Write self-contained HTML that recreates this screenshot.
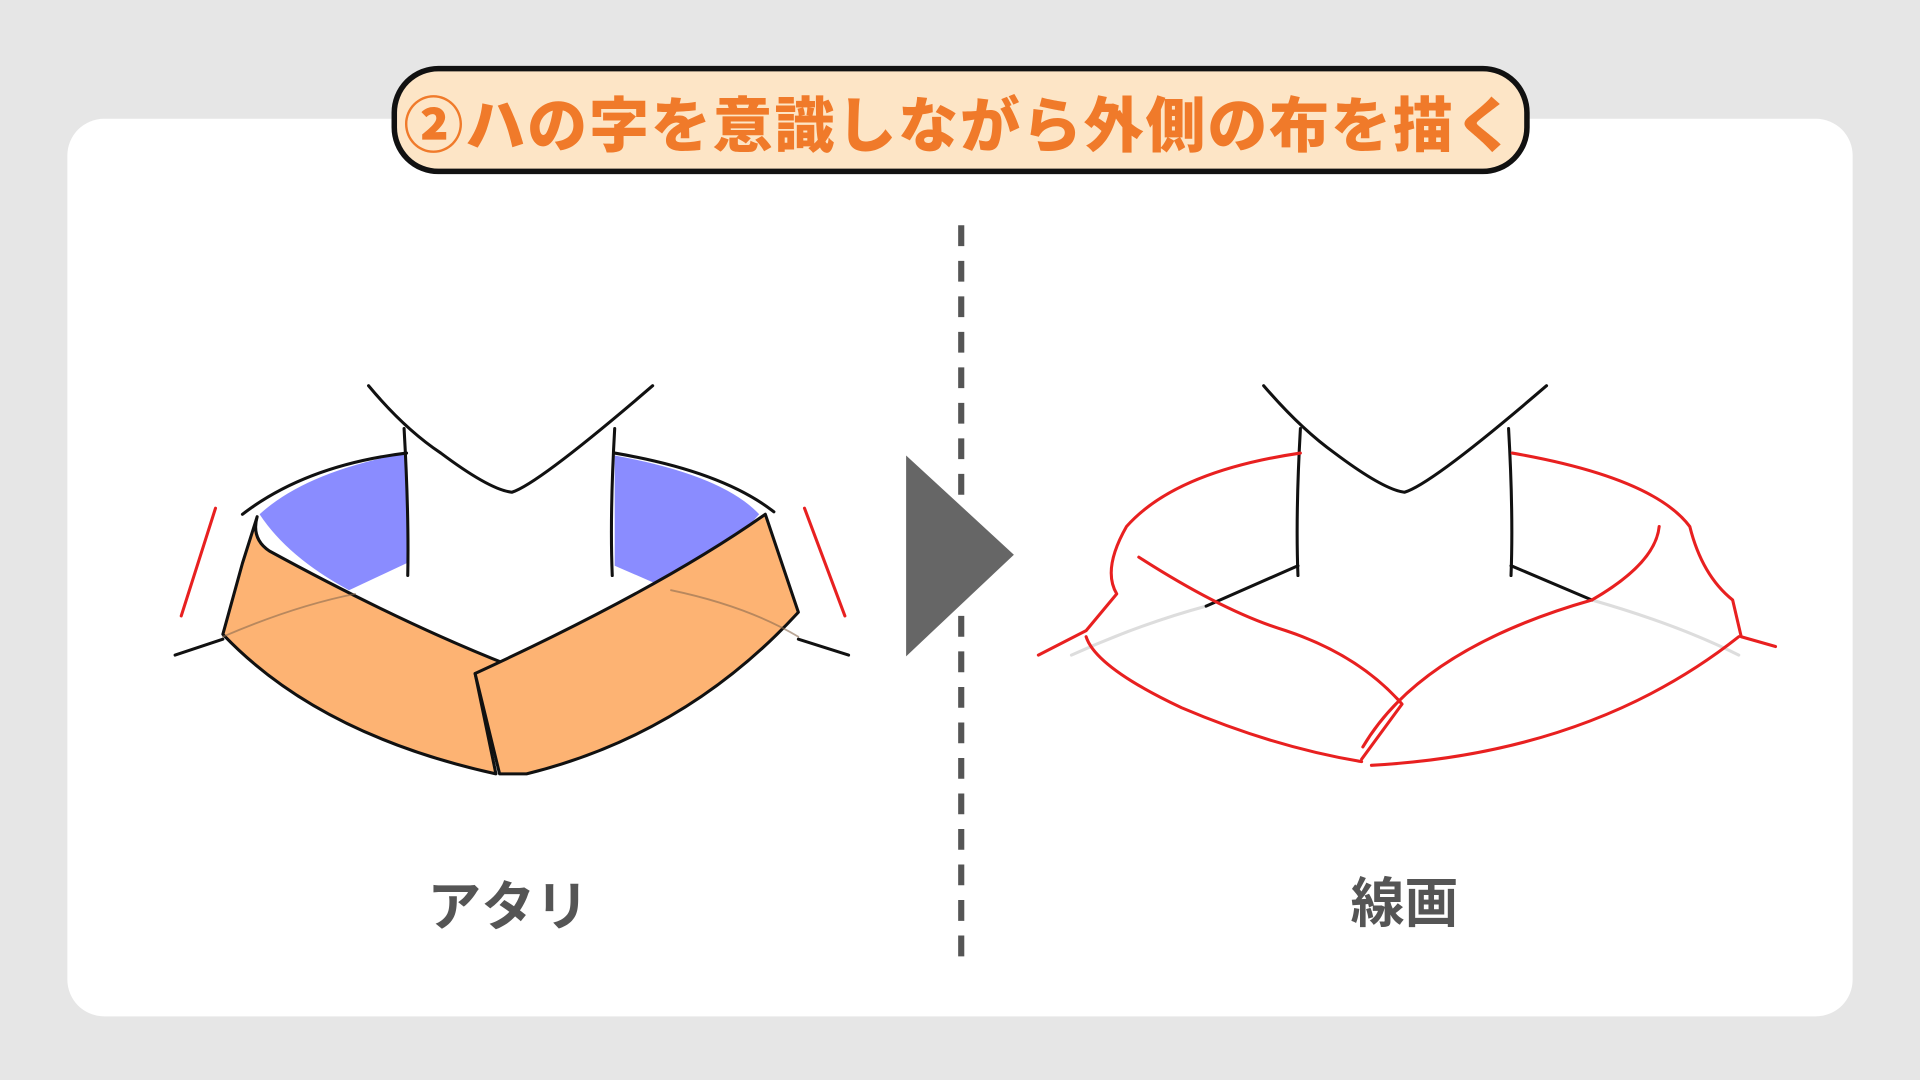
<!DOCTYPE html>
<html><head><meta charset="utf-8"><style>
html,body{margin:0;padding:0;background:#e6e6e6;}
svg{display:block;}
</style></head><body>
<svg width="1920" height="1080" viewBox="0 0 1568 882" xmlns="http://www.w3.org/2000/svg">
<rect width="1568" height="882" fill="#e6e6e6"/>
<rect x="55" y="97" width="1458" height="733" rx="30" fill="#fff"/>
<rect x="322" y="56" width="925" height="84" rx="36" fill="#fde5c6" stroke="#111" stroke-width="4.5"/>
<text x="784" y="120" text-anchor="middle" font-family="'Liberation Sans','Noto Sans CJK JP',sans-serif" font-weight="900" font-size="49" letter-spacing="1.5" fill="#f07a2a">②ハの字を意識しながら外側の布を描く</text>
<line x1="785" y1="184" x2="785" y2="782" stroke="#555" stroke-width="5" stroke-dasharray="17 12"/>
<polygon points="740,372 828,453 740,536" fill="#666"/>
<text x="415" y="756" text-anchor="middle" font-family="'Liberation Sans','Noto Sans CJK JP',sans-serif" font-weight="bold" font-size="44" fill="#555">アタリ</text>
<text x="1147" y="753" text-anchor="middle" font-family="'Liberation Sans','Noto Sans CJK JP',sans-serif" font-weight="bold" font-size="44" fill="#555">線画</text>

<g stroke-linecap="round" stroke-linejoin="round">
<path d="M332,370 Q250,385 212,420 Q235,455 285,482 L332,460 Z" fill="#8a8cff"/>
<path d="M502,372 Q590,388 620,420 Q590,455 548,482 L502,462 Z" fill="#8a8cff"/>
<path d="M210,422 Q205,440 220,450 Q330,510 420,545 L388,550 L405,632 Q260,600 182,518 L198,460 Z" fill="#fdb373" stroke="#111" stroke-width="2.5"/>
<path d="M625,420 L652,500 Q560,600 430,632 L408,632 L388,550 Q540,480 625,420 Z" fill="#fdb373" stroke="#111" stroke-width="2.5"/>
<path d="M198,420 Q250,380 332,370 M502,370 Q590,385 632,418" fill="none" stroke="#111" stroke-width="2.5"/>
<path d="M301,315 Q330,350 360,370 Q400,400 418,402 Q440,395 533,315" fill="none" stroke="#111" stroke-width="2.5"/>
<path d="M330,350 Q334,420 333,470 M502,350 Q498,420 500,470" fill="none" stroke="#111" stroke-width="2.5"/>
<path d="M143,535 L182,522 M652,522 L693,535" fill="none" stroke="#111" stroke-width="2.5"/>
<path d="M182,520 Q240,495 290,485 M548,482 Q610,495 652,520" fill="none" stroke="#8a6a50" stroke-width="1.5" opacity="0.6"/>
<path d="M176,415 L148,503 M657,415 L690,503" fill="none" stroke="#e82020" stroke-width="2.5"/>
</g>

<g stroke-linecap="round" stroke-linejoin="round" fill="none">
<path d="M875,535 Q930,510 985,495 M1300,490 Q1370,510 1420,535" stroke="#ddd" stroke-width="2.5"/>
<path d="M1032,315 Q1062,350 1090,370 Q1130,400 1147,402 Q1170,395 1263,315" stroke="#111" stroke-width="2.5"/>
<path d="M1062,350 Q1058,420 1060,470 M1232,350 Q1236,420 1234,470" stroke="#111" stroke-width="2.5"/>
<path d="M1060,462 L985,495 M1234,462 L1300,490" stroke="#111" stroke-width="2.5"/>
<g stroke="#e82020" stroke-width="2.5">
<path d="M1062,370 Q960,385 920,430 Q900,465 912,485 L887,515 L848,535"/>
<path d="M930,455 Q1000,500 1050,515 Q1110,535 1145,575 L1112,620"/>
<path d="M887,520 Q895,545 965,578 Q1040,610 1112,622"/>
<path d="M1235,370 Q1350,390 1380,430 Q1390,470 1415,490 L1422,520 L1450,528"/>
<path d="M1355,430 Q1352,460 1300,490 Q1160,530 1113,610"/>
<path d="M1120,625 Q1300,615 1420,520"/>
</g>
</g>
</svg>
</body></html>
